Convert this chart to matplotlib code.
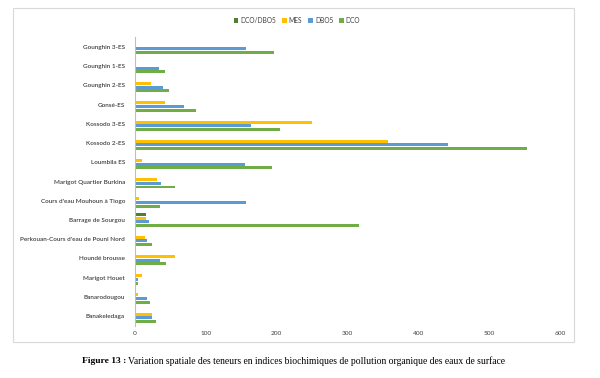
import matplotlib.pyplot as plt
import numpy as np
from matplotlib.patches import Rectangle

# stations, du bas vers le haut
stations = ["Banakeledaga", "Banarodougou", "Marigot Houet", "Houndé brousse",
            "Perkouan-Cours d'eau de Pouni Nord", "Barrage de Sourgou",
            "Cours d'eau Mouhoun à Tiogo", "Marigot Quartier Burkina",
            "Loumbila ES", "Kossodo 2-ES", "Kossodo 3-ES", "Gonsé-ES",
            "Gounghin 2-ES", "Gounghin 1-ES", "Gounghin 3-ES"]

dco = [30, 22, 5, 44, 25, 316, 35.6, 56.7, 194, 553, 204.6, 87, 49, 42.7, 196.6]
dbo5 = [24.8, 17.8, 4.3, 35.6, 17, 20, 157, 37.8, 155.5, 442, 164, 70, 39.4, 34.6, 157]
mes = [24.3, 4.3, 10, 56.7, 14, 16, 5.4, 30.8, 10, 358, 250, 42.7, 22.7, 2.5, 2]
ratio = [1.2, 1.2, 1.2, 1.2, 1.5, 15.8, 0.2, 1.5, 1.2, 1.25, 1.25, 1.2, 1.2, 1.2, 1.2]

couleurs = {"DCO/DBO5": "#507e32", "MES": "#ffc000", "DBO5": "#5b9bd5", "DCO": "#70ad47"}

plt.rcParams['font.family'] = ['Lato', 'DejaVu Sans']

fig = plt.figure(figsize=(6, 3.78), dpi=100)
ax = fig.add_axes([0.2245, 0.1386, 0.7088, 0.7624])

y = np.arange(len(stations))
pas = 0.19
h = 0.155
ax.barh(y + 1.5 * pas, ratio, height=h, color=couleurs["DCO/DBO5"], label="DCO/DBO5")
ax.barh(y + 0.5 * pas, mes, height=h, color=couleurs["MES"], label="MES")
ax.barh(y - 0.5 * pas, dbo5, height=h, color=couleurs["DBO5"], label="DBO5")
ax.barh(y - 1.5 * pas, dco, height=h, color=couleurs["DCO"], label="DCO")

ax.set_xlim(0, 600)
ax.set_ylim(-0.5, len(stations) - 0.5)
ax.set_xticks(range(0, 601, 100))
ax.set_yticks(y)
ax.set_yticklabels(stations)
ax.tick_params(axis="both", length=0, labelsize=4.6, labelcolor="#404040")
ax.tick_params(axis="y", pad=7)
ax.tick_params(axis="x", pad=4)
for lab in ax.get_yticklabels():
    lab.set_fontweight("semibold")
for s in ["top", "right", "bottom"]:
    ax.spines[s].set_visible(False)
ax.spines["left"].set_color("#bfbfbf")
ax.spines["left"].set_linewidth(0.8)

fig.legend(loc="center", bbox_to_anchor=(0.495, 0.947), ncol=4, frameon=False,
           fontsize=4.8, handlelength=0.7, handleheight=0.7, handletextpad=0.3,
           columnspacing=0.9, labelcolor="#404040")

# cadre du graphique
fig.patches.append(Rectangle((13 / 600, 1 - 342 / 378), 561 / 600, 334 / 378,
                             transform=fig.transFigure, fill=False,
                             edgecolor="#d9d9d9", linewidth=0.8))

# légende de la figure
fig.text(82 / 600, 1 - 361 / 378, "Figure 13 :", family="Liberation Serif",
         fontweight="bold", fontsize=6.8, va="center")
fig.text(128 / 600, 1 - 361 / 378,
         "Variation spatiale des teneurs en indices biochimiques de pollution organique des eaux de surface",
         family="Liberation Serif", fontsize=6.9, va="center")

fig.savefig("out.png", dpi=100)
